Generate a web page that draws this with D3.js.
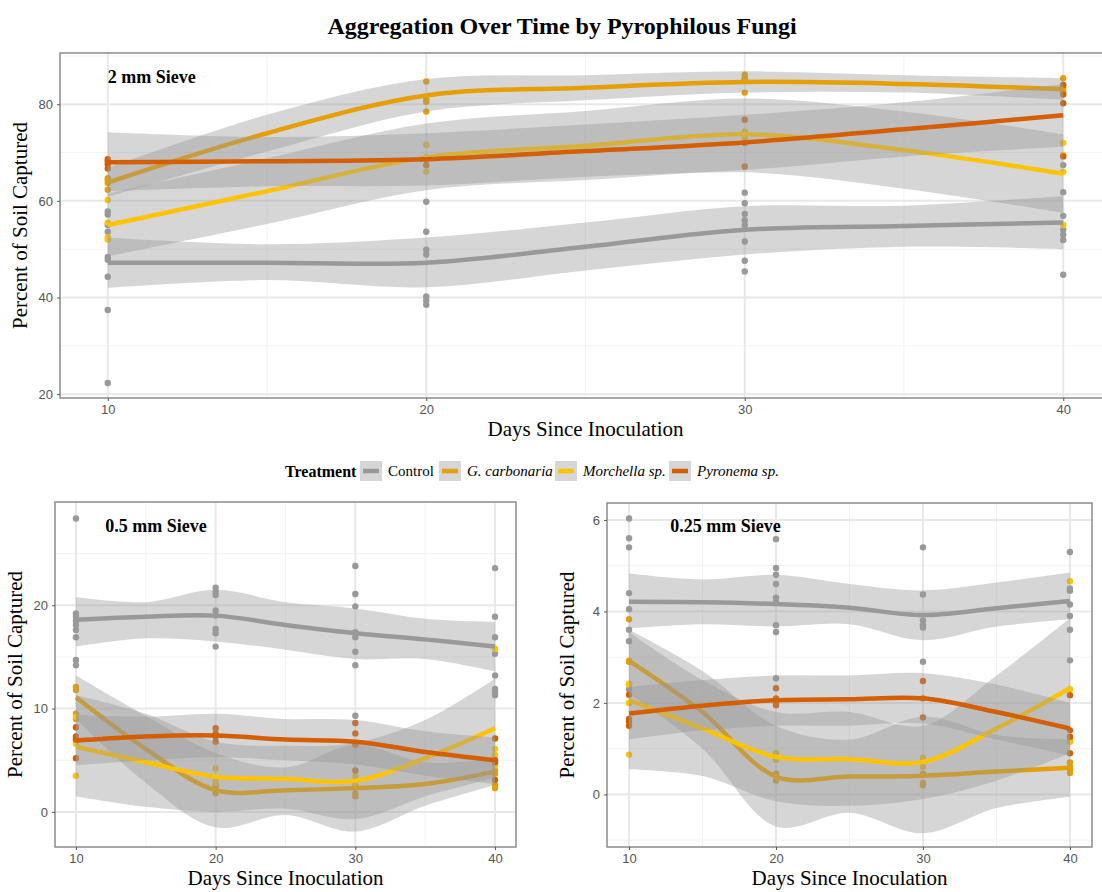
<!DOCTYPE html>
<html lang="en">
<head>
    <title>Aggregation Over Time by Pyrophilous Fungi</title>
    <meta charset="utf-8">
    <script src="https://d3js.org/d3.v7.min.js"></script>
    <style>
        body { margin: 0; background: #fff; }
    </style>
</head>
<body>
<div id="chart"></div>
<script>
    // Treatments and colours
    const treatments = ["Control", "G. carbonaria", "Morchella sp.", "Pyronema sp."];
    const colors = ["#999999", "#E69F00", "#FFC300", "#D55E00"];
    const italic = [false, true, true, true];

    // Sampling days of the measurements and of the smoothed fits
    const days = [10, 20, 30, 40];
    const fitDays = [10, 15, 20, 25, 30, 35, 40];
    const xTicks = [10, 20, 30, 40];

    // ---- 2 mm sieve ----
    const fit2 = [
        [47.2, 47.2, 47.2, 50.5, 54.0, 54.8, 55.5],
        [63.8, 74.0, 81.8, 83.4, 84.6, 84.2, 83.1],
        [55.0, 62.0, 69.0, 71.4, 73.8, 70.5, 65.6],
        [68.0, 68.2, 68.6, 70.3, 72.1, 74.8, 77.7]
    ];
    const lo2 = [
        [42.0, 43.6, 42.1, 45.6, 48.9, 50.5, 50.0],
        [60.8, 70.2, 78.5, 80.8, 82.4, 82.4, 80.9],
        [48.5, 55.2, 62.2, 64.3, 65.9, 62.5, 57.5],
        [62.0, 63.0, 63.2, 65.0, 66.4, 69.2, 71.2]
    ];
    const hi2 = [
        [52.4, 51.0, 52.4, 55.5, 58.9, 59.0, 61.0],
        [66.8, 77.8, 85.2, 86.0, 86.8, 86.0, 85.4],
        [61.5, 68.8, 76.0, 78.6, 81.2, 78.5, 73.8],
        [74.2, 73.2, 74.0, 75.8, 77.8, 80.4, 84.2]
    ];
    const pts2 = [
        [[57.8, 57.2, 55.0, 53.6, 48.4, 47.8, 44.3, 37.4, 22.3], [59.8, 53.6, 49.9, 48.9, 40.2, 39.4, 38.5],
            [61.7, 59.5, 57.3, 56.0, 55.0, 51.6, 47.6, 45.4], [67.4, 61.8, 56.9, 54.0, 53.0, 51.9, 44.7]],
        [[64.7, 63.7, 62.3, 64.3], [84.7, 80.5, 78.5, 81.0], [86.1, 85.4, 82.4, 85.0], [85.4, 82.3, 83.5, 82.8]],
        [[60.2, 52.0, 52.5, 55.5], [71.6, 66.1, 69.0], [74.3, 73.0, 72.0], [72.0, 69.5, 55.0, 66.0]],
        [[68.6, 67.6, 66.7, 68.2], [68.5, 67.4], [76.8, 67.1, 72.0], [84.0, 80.2, 69.2, 82.0]]
    ];
    const yTicks2 = [20, 40, 60, 80];

    // ---- 0.5 mm sieve ----
    const fit05 = [
        [18.6, 18.9, 19.0, 18.1, 17.3, 16.7, 16.0],
        [11.1, 6.1, 2.1, 2.1, 2.3, 2.7, 3.9],
        [6.3, 4.8, 3.4, 3.2, 3.0, 5.2, 8.1],
        [6.9, 7.3, 7.4, 7.0, 6.8, 5.8, 5.0]
    ];
    const lo05 = [
        [16.0, 16.8, 16.5, 15.7, 14.8, 14.8, 13.6],
        [9.0, 2.8, -1.5, -0.3, -1.9, 0.6, 2.6],
        [1.5, 0.5, 0.0, 0.3, -0.7, 1.5, 3.3],
        [4.5, 5.0, 5.3, 5.0, 4.6, 3.5, 2.7]
    ];
    const hi05 = [
        [20.8, 20.3, 21.5, 20.3, 19.7, 18.7, 18.4],
        [13.2, 9.3, 5.7, 4.3, 6.5, 4.8, 5.2],
        [11.3, 9.5, 6.8, 6.4, 6.7, 8.9, 12.9],
        [9.4, 9.2, 9.5, 9.0, 8.9, 7.8, 7.2]
    ];
    const pts05 = [
        [[28.4, 19.2, 18.9, 18.5, 18.1, 17.6, 16.9, 14.7, 14.2], [21.7, 21.3, 21.0, 19.5, 19.0, 17.7, 17.3, 16.0],
            [23.8, 21.1, 19.9, 17.4, 16.9, 15.5, 14.2, 9.3], [23.6, 18.9, 16.9, 15.3, 13.2, 11.9, 11.6, 11.3]],
        [[12.1, 11.8, 9.5, 9.0], [2.3, 1.8, 2.0, 2.5], [1.8, 1.5, 2.5, 3.0], [4.0, 3.7, 2.6, 2.3]],
        [[9.2, 6.6, 3.5, 7.0], [4.2, 3.2, 2.8], [3.5, 2.5, 3.0], [15.8, 6.1, 4.5, 5.5]],
        [[8.2, 7.3, 5.2, 7.0], [8.1, 7.6, 6.8, 7.3], [8.6, 7.6, 4.0, 6.5], [7.1, 4.8, 3.1, 5.0]]
    ];
    const yTicks05 = [0, 10, 20];

    // ---- 0.25 mm sieve ----
    const fit025 = [
        [4.21, 4.20, 4.16, 4.08, 3.92, 4.07, 4.23],
        [2.92, 1.80, 0.39, 0.39, 0.41, 0.50, 0.58],
        [2.06, 1.44, 0.82, 0.77, 0.71, 1.44, 2.32],
        [1.77, 1.94, 2.06, 2.08, 2.10, 1.80, 1.44]
    ];
    const lo025 = [
        [3.63, 3.72, 3.67, 3.72, 3.37, 3.67, 3.83],
        [2.20, 1.00, -0.70, -0.40, -0.85, -0.30, -0.05],
        [0.55, 0.40, -0.15, -0.25, -0.10, 0.30, 0.90],
        [1.20, 1.40, 1.50, 1.50, 1.55, 1.20, 0.85]
    ];
    const hi025 = [
        [4.83, 4.70, 4.80, 4.60, 4.46, 4.63, 4.85],
        [3.60, 2.70, 1.50, 1.20, 1.70, 1.30, 1.20],
        [3.55, 2.50, 1.80, 1.80, 1.50, 2.60, 3.85],
        [2.35, 2.50, 2.60, 2.60, 2.65, 2.40, 2.00]
    ];
    const pts025 = [
        [[6.03, 5.6, 5.4, 4.4, 4.05, 3.6, 3.35, 2.3], [5.58, 4.95, 4.8, 4.6, 4.3, 4.2, 3.7, 3.55, 2.54],
            [5.4, 4.37, 3.8, 3.7, 3.65, 2.9], [5.3, 4.5, 4.45, 4.15, 3.9, 3.6, 2.93]],
        [[3.83, 2.92, 2.4, 2.9], [0.4, 0.3, 0.45], [0.25, 0.2, 0.45], [0.6, 0.47, 0.7, 0.55]],
        [[2.42, 0.87, 2.4, 2.0], [0.9, 0.8, 0.75], [0.8, 0.6, 0.75], [4.66, 1.15, 2.3, 1.2]],
        [[2.18, 1.65, 1.5, 1.6], [2.32, 1.95, 2.1, 2.0], [2.48, 1.68, 2.1], [2.17, 1.26, 0.9, 1.4]]
    ];
    const yTicks025 = [0, 2, 4, 6];

    // Panel layout (pixels) and axis domains
    const panels = [
        {label: "2 mm Sieve", left: 60, right: 1111, top: 53, bottom: 398, yDomain: [19.2, 90.6],
            labelAt: [10, 85.6], fit: fit2, lo: lo2, hi: hi2, pts: pts2, yTicks: yTicks2},
        {label: "0.5 mm Sieve", left: 55, right: 516, top: 502, bottom: 847, yDomain: [-3.4, 30],
            labelAt: [12.1, 27.7], fit: fit05, lo: lo05, hi: hi05, pts: pts05, yTicks: yTicks05},
        {label: "0.25 mm Sieve", left: 607, right: 1092, top: 503, bottom: 847, yDomain: [-1.15, 6.37],
            labelAt: [12.8, 5.87], fit: fit025, lo: lo025, hi: hi025, pts: pts025, yTicks: yTicks025}
    ];

    const serif = "'Liberation Serif', 'Times New Roman', serif";
    const sans = "'Liberation Sans', Arial, sans-serif";

    const svg = d3.select("#chart")
        .append("svg")
        .attr("width", 1102)
        .attr("height", 892);

    // Title
    svg.append("text")
        .attr("x", 562)
        .attr("y", 34)
        .attr("text-anchor", "middle")
        .attr("font-family", serif)
        .attr("font-weight", "bold")
        .attr("font-size", 24)
        .text("Aggregation Over Time by Pyrophilous Fungi");

    function drawPanel(p) {
        const x = d3.scaleLinear().domain([8.5, 41.5]).range([p.left, p.right]);
        const y = d3.scaleLinear().domain(p.yDomain).range([p.bottom, p.top]);
        const g = svg.append("g");

        // minor grid: halfway between major breaks
        const step = p.yTicks[1] - p.yTicks[0];
        const yMinor = d3.range(p.yTicks[0] - step / 2, p.yTicks[p.yTicks.length - 1] + step, step)
            .filter(v => v > p.yDomain[0] && v < p.yDomain[1]);
        const xMinor = [15, 25, 35];

        g.selectAll(".ymin").data(yMinor).join("line")
            .attr("x1", p.left).attr("x2", p.right)
            .attr("y1", d => y(d)).attr("y2", d => y(d))
            .attr("stroke", "#f2f2f2").attr("stroke-width", 1);
        g.selectAll(".xmin").data(xMinor).join("line")
            .attr("x1", d => x(d)).attr("x2", d => x(d))
            .attr("y1", p.top).attr("y2", p.bottom)
            .attr("stroke", "#f2f2f2").attr("stroke-width", 1);
        g.selectAll(".ymaj").data(p.yTicks).join("line")
            .attr("x1", p.left).attr("x2", p.right)
            .attr("y1", d => y(d)).attr("y2", d => y(d))
            .attr("stroke", "#e8e8e8").attr("stroke-width", 2);
        g.selectAll(".xmaj").data(xTicks).join("line")
            .attr("x1", d => x(d)).attr("x2", d => x(d))
            .attr("y1", p.top).attr("y2", p.bottom)
            .attr("stroke", "#e8e8e8").attr("stroke-width", 2);

        // raw points
        treatments.forEach((t, i) => {
            const flat = [];
            p.pts[i].forEach((vals, j) => vals.forEach(v => flat.push([days[j], v])));
            g.append("g").selectAll("circle").data(flat).join("circle")
                .attr("cx", d => x(d[0]))
                .attr("cy", d => y(d[1]))
                .attr("r", 3.2)
                .attr("fill", colors[i]);
        });

        // ribbons and fits, one group after another
        treatments.forEach((t, i) => {
            const rows = fitDays.map((d, j) => ({d, f: p.fit[i][j], lo: p.lo[i][j], hi: p.hi[i][j]}));
            g.append("path")
                .datum(rows)
                .attr("fill", "#999999")
                .attr("fill-opacity", 0.4)
                .attr("d", d3.area()
                    .curve(d3.curveCatmullRom)
                    .x(r => x(r.d))
                    .y0(r => y(r.lo))
                    .y1(r => y(r.hi)));
            g.append("path")
                .datum(rows)
                .attr("fill", "none")
                .attr("stroke", colors[i])
                .attr("stroke-width", 4.5)
                .attr("d", d3.line()
                    .curve(d3.curveCatmullRom)
                    .x(r => x(r.d))
                    .y(r => y(r.f)));
        });

        // border
        g.append("rect")
            .attr("x", p.left).attr("y", p.top)
            .attr("width", p.right - p.left).attr("height", p.bottom - p.top)
            .attr("fill", "none").attr("stroke", "#8a8a8a").attr("stroke-width", 1.5);

        // axes
        const xAxis = g.append("g")
            .attr("transform", `translate(0, ${p.bottom})`)
            .call(d3.axisBottom(x).tickValues(xTicks).tickSize(3).tickPadding(4));
        const yAxis = g.append("g")
            .attr("transform", `translate(${p.left}, 0)`)
            .call(d3.axisLeft(y).tickValues(p.yTicks).tickSize(3).tickPadding(4));
        [xAxis, yAxis].forEach(a => {
            a.select(".domain").remove();
            a.selectAll("line").attr("stroke", "#555");
            a.selectAll("text").attr("fill", "#555").attr("font-family", sans).attr("font-size", 13);
        });

        // panel label
        g.append("text")
            .attr("x", x(p.labelAt[0]))
            .attr("y", y(p.labelAt[1]))
            .attr("dy", "0.35em")
            .attr("font-family", serif)
            .attr("font-weight", "bold")
            .attr("font-size", 18)
            .text(p.label);

        // axis titles
        g.append("text")
            .attr("x", (p.left + Math.min(p.right, 1111)) / 2)
            .attr("y", p.bottom + 38)
            .attr("text-anchor", "middle")
            .attr("font-family", serif)
            .attr("font-size", 21)
            .text("Days Since Inoculation");
        g.append("text")
            .attr("transform", `translate(${p.left - 33}, ${(p.top + p.bottom) / 2}) rotate(-90)`)
            .attr("text-anchor", "middle")
            .attr("font-family", serif)
            .attr("font-size", 21)
            .text("Percent of Soil Captured");
    }

    panels.forEach(drawPanel);

    // Legend
    const legend = svg.append("g").attr("transform", "translate(0, 471)");
    legend.append("text")
        .attr("x", 285).attr("y", 0).attr("dy", "0.35em")
        .attr("font-family", serif).attr("font-weight", "bold").attr("font-size", 16)
        .text("Treatment");
    const keyX = [360, 439, 555, 669];
    treatments.forEach((t, i) => {
        const k = legend.append("g").attr("transform", `translate(${keyX[i]}, 0)`);
        k.append("rect").attr("x", 0).attr("y", -10).attr("width", 22).attr("height", 20)
            .attr("fill", "#999999").attr("fill-opacity", 0.4);
        k.append("line").attr("x1", 3).attr("x2", 19).attr("y1", 0).attr("y2", 0)
            .attr("stroke", colors[i]).attr("stroke-width", 4.5);
        k.append("text")
            .attr("x", 28).attr("y", 0).attr("dy", "0.35em")
            .attr("font-family", serif).attr("font-size", 15)
            .attr("font-style", italic[i] ? "italic" : "normal")
            .text(t);
    });
</script>
</body>
</html>
